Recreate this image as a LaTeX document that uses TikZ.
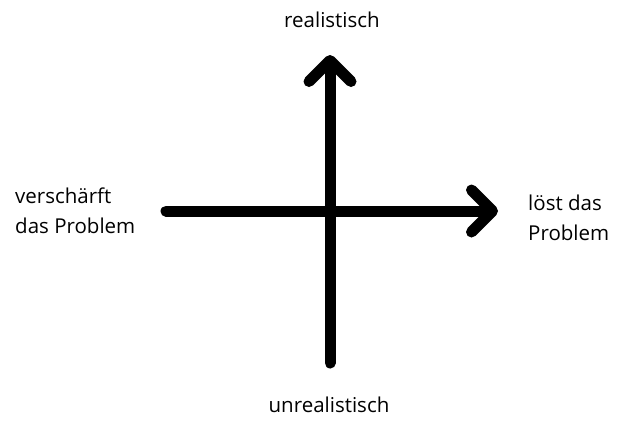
\documentclass[tikz,border=0pt]{standalone}
\usepackage{fontspec}
\setmainfont{Open Sans}
\usetikzlibrary{arrows.meta}

\begin{document}
\begin{tikzpicture}[x=1pt,y=-1pt]
        \tikzset{
            axis/.style={line width=11pt,line cap=round,-{Straight Barb[round,length=21pt,width=42pt]}},
            lbl/.style={inner sep=0pt,font=\fontsize{20.5}{30}\selectfont,align=left}
        }
        \useasboundingbox (0,0) rectangle (620,421);
        \coordinate (bottom) at (330,363);
        \coordinate (top) at (330,55);
        \coordinate (leftend) at (166,211);
        \coordinate (rightend) at (498,211);
        \node[lbl,anchor=base] (real) at (332,27) {realistisch};
        \node[lbl,anchor=base] (unreal) at (329,412) {unrealistisch};
        \node[lbl,anchor=west] (worse) at (15,211) {verschärft\\das Problem};
        \node[lbl,anchor=west] (solves) at (528,218) {löst das\\Problem};
        \draw[axis] (bottom) -- (top);
        \draw[axis] (leftend) -- (rightend);
    \end{tikzpicture}
\end{document}
